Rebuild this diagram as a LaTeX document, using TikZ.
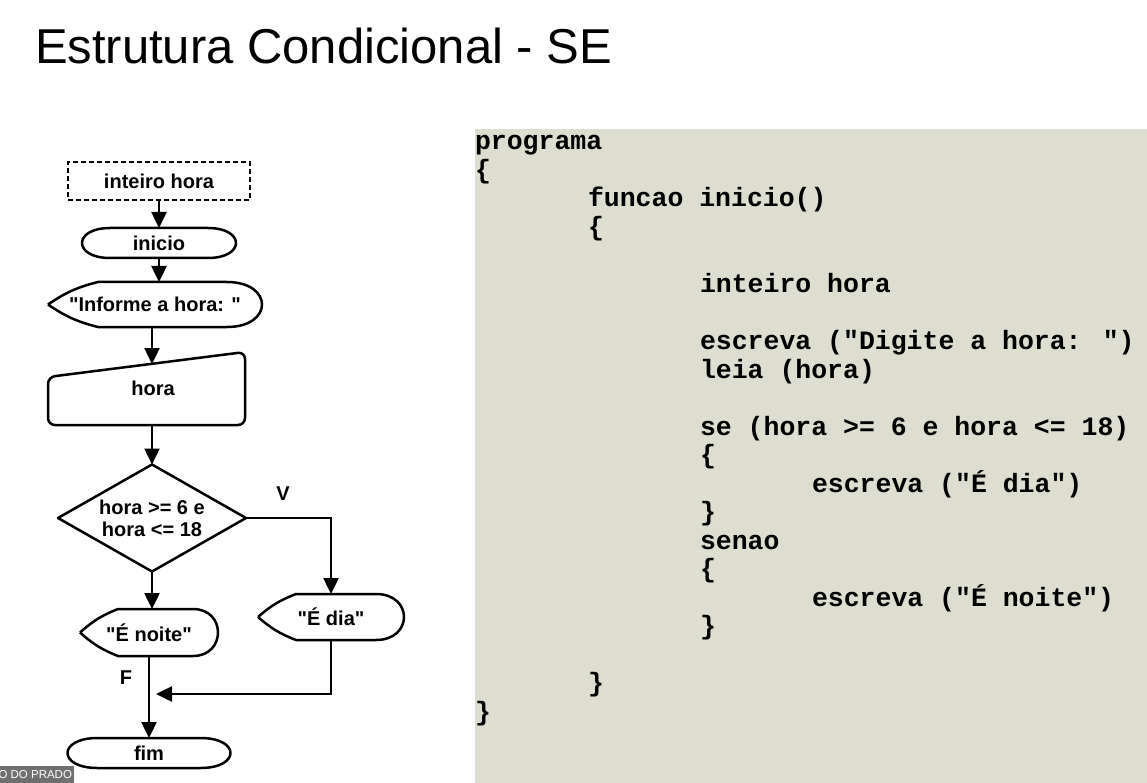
\documentclass[tikz,border=0pt]{standalone}
\usepackage{fontspec}
\setmainfont{Liberation Sans}[Ligatures=TeXOff]
\newfontfamily\codefont{Liberation Mono}[Ligatures=TeXOff]
\usetikzlibrary{arrows.meta,shapes.geometric}
\definecolor{panelbg}{RGB}{221,222,208}
\definecolor{taggray}{RGB}{112,112,112}

% terminal (start/end) outline with elliptic caps
\newcommand\drawterminal[2]{%
  \draw[outline] ([xshift=#2]#1.north west) -- ([xshift=-#2]#1.north east)
    .. controls ([xshift=#2/3]#1.north east) and ([xshift=#2/3]#1.south east) .. ([xshift=-#2]#1.south east)
    -- ([xshift=#2]#1.south west)
    .. controls ([xshift=-#2/3]#1.south west) and ([xshift=-#2/3]#1.north west) .. cycle;}
% display outline: pointed left end, rounded right end
\newcommand\drawdisplay[3]{%
  \draw[outline] (#1.west) to[bend left=10] ([xshift=#2]#1.north west)
    -- ([xshift=-#3]#1.north east)
    .. controls ([xshift=#3/3]#1.north east) and ([xshift=#3/3]#1.south east) .. ([xshift=-#3]#1.south east)
    -- ([xshift=#2]#1.south west) to[bend left=10] (#1.west);}

\begin{document}
\begin{tikzpicture}[x=1pt,y=-1pt,
  every node/.style={inner sep=0pt, outer sep=0pt},
  lbl/.style={font=\fontsize{20}{22}\selectfont\bfseries},
  outline/.style={line width=2.5pt, line join=round},
  flow/.style={line width=2.5pt, -{Triangle[length=16pt,width=15pt]}},
  codeline/.style={anchor=base west, font=\codefont\bfseries\fontsize{26.5}{28.5}\selectfont},
]
\useasboundingbox (0,0) rectangle (1147,783);
\fill[white] (0,0) rectangle (1147,783);

% title
\node[anchor=base west, font=\fontsize{49}{56}\selectfont] (title) at (35,64) {Estrutura Condicional - SE};

% code panel
\node[fill=panelbg, minimum width=672, minimum height=654, anchor=north west] (panel) at (475,129) {};
\node[codeline] (c0)  at (475,150)   {programa};
\node[codeline] (c1)  at (475,178.5) {\{};
\node[codeline] (c2)  at (588,207)   {funcao inicio()};
\node[codeline] (c3)  at (588,235.5) {\{};
\node[codeline] (c5)  at (700,292.5) {inteiro hora};
\node[codeline] (c7)  at (700,349.5) {escreva ("Digite a hora: ")};
\node[codeline] (c8)  at (700,378)   {leia (hora)};
\node[codeline] (c10) at (700,435)   {se (hora >= 6 e hora <= 18)};
\node[codeline] (c11) at (700,463.5) {\{};
\node[codeline] (c12) at (812,492)   {escreva ("É dia")};
\node[codeline] (c13) at (700,520.5) {\}};
\node[codeline] (c14) at (700,549)   {senao};
\node[codeline] (c15) at (700,577.5) {\{};
\node[codeline] (c16) at (812,606)   {escreva ("É noite")};
\node[codeline] (c17) at (700,634.5) {\}};
\node[codeline] (c19) at (588,691.5) {\}};
\node[codeline] (c20) at (475,720)   {\}};

% flowchart nodes
\node[lbl, draw, line width=1.4pt, dash pattern=on 5pt off 3pt,
      minimum width=182, minimum height=38] (ih) at (159,181) {inteiro hora};
\node[lbl, minimum width=154, minimum height=30] (ini) at (159,243) {inicio};
\node[lbl, minimum width=214, minimum height=45] (inf) at (155,304.5) {"Informe a hora: "};
\node[lbl, minimum width=197, minimum height=73] (hora) at (146.5,388.5) {\hspace*{13pt}hora};
\node[lbl, draw, outline, diamond, aspect=1.76, minimum width=188, minimum height=107,
      align=center] (dec) at (152,518) {hora >= 6 e\\hora <= 18};
\node[lbl, minimum width=146, minimum height=46] (edi) at (331,617) {"É dia"};
\node[lbl, minimum width=138, minimum height=47] (eno) at (149,632.5) {"É noite"};
\node[lbl, minimum width=163, minimum height=30] (fim) at (149,753) {fim};
\node[lbl] (v) at (283,494) {V};
\node[lbl] (f) at (126,678) {F};

% outlines of the custom shapes
\drawterminal{ini}{28}
\drawterminal{fim}{30}
\drawdisplay{inf}{50}{35}
\drawdisplay{edi}{38}{28}
\drawdisplay{eno}{38}{25}
\draw[outline, rounded corners=7] ([yshift=-25pt]hora.north west) -- (hora.north east)
  -- (hora.south east) -- (hora.south west) -- cycle;

% connectors
\coordinate (hin) at (152,364);
\coordinate (join) at (156,694);
\draw[flow] (ih.south) -- (ini.north);
\draw[flow] (ini.south) -- (ini.south |- inf.north);
\draw[flow] (inf.south -| hin) -- (hin);
\draw[flow] (hora.south -| dec.north) -- (dec.north);
\draw[flow] (dec.east) -| (edi.north);
\draw[flow] (dec.south) -- (dec.south |- eno.north);
\draw[flow] (eno.south) -- (fim.north);
\draw[flow] (edi.south) |- (join);

% name tag in the corner
\begin{scope}
\clip (0,766) rectangle (74,783);
\node[fill=taggray, text=white, anchor=south east, minimum height=17, inner xsep=2pt,
      font=\fontsize{11.5}{13}\selectfont] (tag) at (74,783) {O DO PRADO};
\end{scope}
\end{tikzpicture}
\end{document}
